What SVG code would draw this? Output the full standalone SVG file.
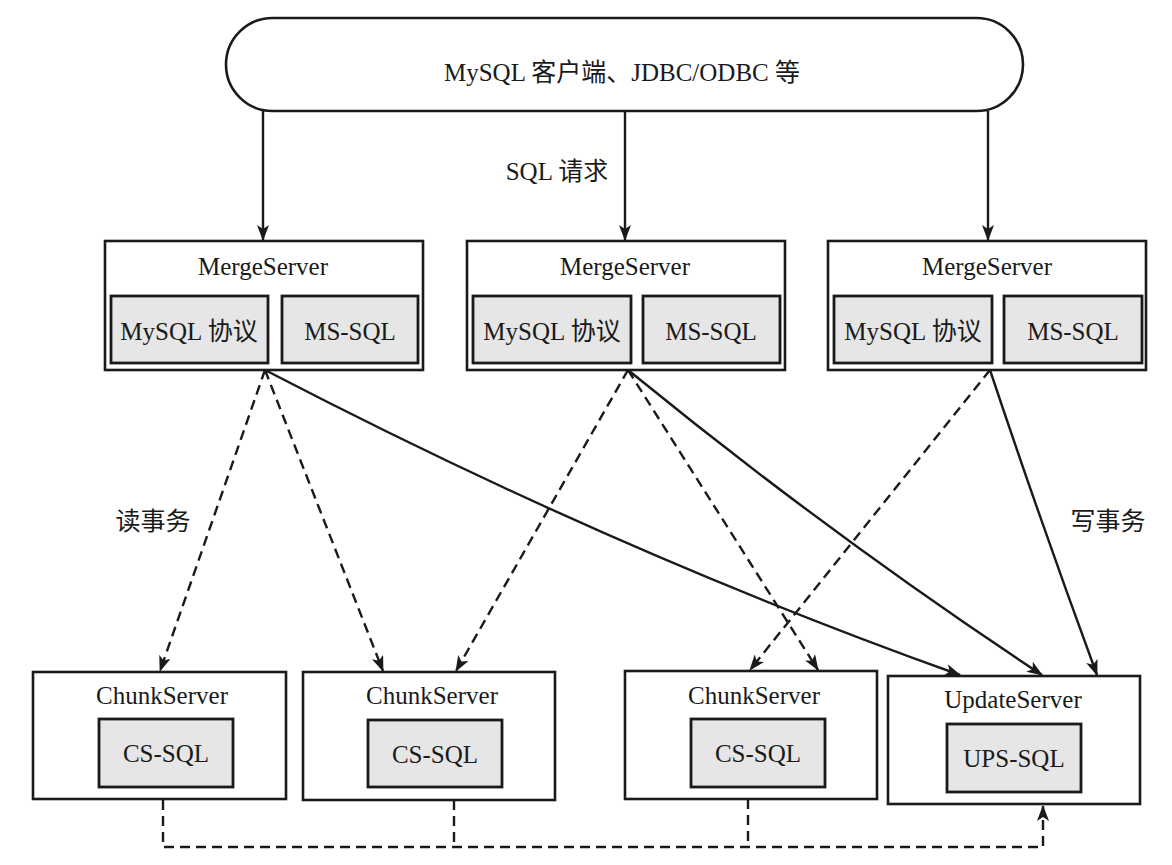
<svg xmlns="http://www.w3.org/2000/svg" width="1172" height="865" viewBox="0 0 1172 865">
<defs>
<style>
text{font-family:"Liberation Serif","Noto Sans CJK SC",serif;font-size:25px;fill:#1a1a1a;text-anchor:middle}
.box{fill:#fff;stroke:#1a1a1a;stroke-width:2.6}
.inner{fill:#e6e6e6;stroke:#1a1a1a;stroke-width:2.8}
.solid{fill:none;stroke:#1a1a1a;stroke-width:2.4}
.dash{fill:none;stroke:#1a1a1a;stroke-width:2.4;stroke-dasharray:10 6}
</style>
<marker id="ah" markerWidth="16" markerHeight="12" refX="15" refY="6" orient="auto" markerUnits="userSpaceOnUse">
<path d="M0,0 L16,6 L0,12 L4,6 z" fill="#1a1a1a"/>
</marker>
</defs>
<rect width="1172" height="865" fill="#fff"/>

<g id="client">
<rect x="226" y="18" width="797" height="93" rx="46.5" ry="46.5" class="box"/>
<text x="622" y="81">MySQL 客户端、JDBC/ODBC 等</text>
</g>

<g id="ms1">
<rect x="105" y="241" width="318" height="129" class="box"/>
<text x="263" y="275">MergeServer</text>
<rect x="111" y="296" width="157" height="67" class="inner"/>
<text x="189" y="340">MySQL 协议</text>
<rect x="282" y="296" width="136" height="67" class="inner"/>
<text x="350" y="340">MS-SQL</text>
</g>
<g id="ms2">
<rect x="467" y="241" width="318" height="129" class="box"/>
<text x="625" y="275">MergeServer</text>
<rect x="473" y="296" width="158" height="67" class="inner"/>
<text x="552" y="340">MySQL 协议</text>
<rect x="643" y="296" width="137" height="67" class="inner"/>
<text x="711" y="340">MS-SQL</text>
</g>
<g id="ms3">
<rect x="828" y="241" width="318" height="129" class="box"/>
<text x="987" y="275">MergeServer</text>
<rect x="834" y="296" width="158" height="67" class="inner"/>
<text x="913" y="340">MySQL 协议</text>
<rect x="1004" y="296" width="138" height="67" class="inner"/>
<text x="1073" y="340">MS-SQL</text>
</g>

<g id="cs1">
<rect x="33" y="672" width="253" height="127" class="box"/>
<text x="162" y="704">ChunkServer</text>
<rect x="99" y="719" width="134" height="68" class="inner"/>
<text x="166" y="762">CS-SQL</text>
</g>
<g id="cs2">
<rect x="303" y="672" width="252" height="128" class="box"/>
<text x="432" y="704">ChunkServer</text>
<rect x="368" y="720" width="134" height="67" class="inner"/>
<text x="435" y="763">CS-SQL</text>
</g>
<g id="cs3">
<rect x="625" y="671" width="252" height="128" class="box"/>
<text x="754" y="704">ChunkServer</text>
<rect x="691" y="719" width="134" height="68" class="inner"/>
<text x="758" y="762">CS-SQL</text>
</g>
<g id="us">
<rect x="888" y="676" width="252" height="128" class="box"/>
<text x="1013" y="708">UpdateServer</text>
<rect x="947" y="724" width="134" height="68" class="inner"/>
<text x="1014" y="767">UPS-SQL</text>
</g>

<g id="labels">
<text x="557" y="180">SQL 请求</text>
<text x="153" y="530">读事务</text>
<text x="1108" y="530">写事务</text>
</g>

<g id="connectors">
<line x1="263" y1="111" x2="263" y2="240" class="solid" marker-end="url(#ah)"/>
<line x1="625" y1="111" x2="625" y2="240" class="solid" marker-end="url(#ah)"/>
<line x1="988" y1="111" x2="988" y2="240" class="solid" marker-end="url(#ah)"/>

<line x1="265" y1="370" x2="160" y2="671" class="dash" marker-end="url(#ah)"/>
<line x1="265" y1="370" x2="383" y2="671" class="dash" marker-end="url(#ah)"/>
<path d="M265,370 Q615,552 960,675" class="solid" marker-end="url(#ah)"/>

<line x1="628" y1="370" x2="456" y2="671" class="dash" marker-end="url(#ah)"/>
<line x1="628" y1="370" x2="818" y2="670" class="dash" marker-end="url(#ah)"/>
<path d="M628,370 Q830,535 1042,675" class="solid" marker-end="url(#ah)"/>

<line x1="990" y1="370" x2="750" y2="670" class="dash" marker-end="url(#ah)"/>
<path d="M990,370 Q1040,520 1097,675" class="solid" marker-end="url(#ah)"/>

<path d="M163,800 V847 H1043 V806" class="dash" marker-end="url(#ah)"/>
<line x1="454" y1="800" x2="454" y2="847" class="dash"/>
<line x1="748" y1="799" x2="748" y2="847" class="dash"/>
</g>
</svg>
